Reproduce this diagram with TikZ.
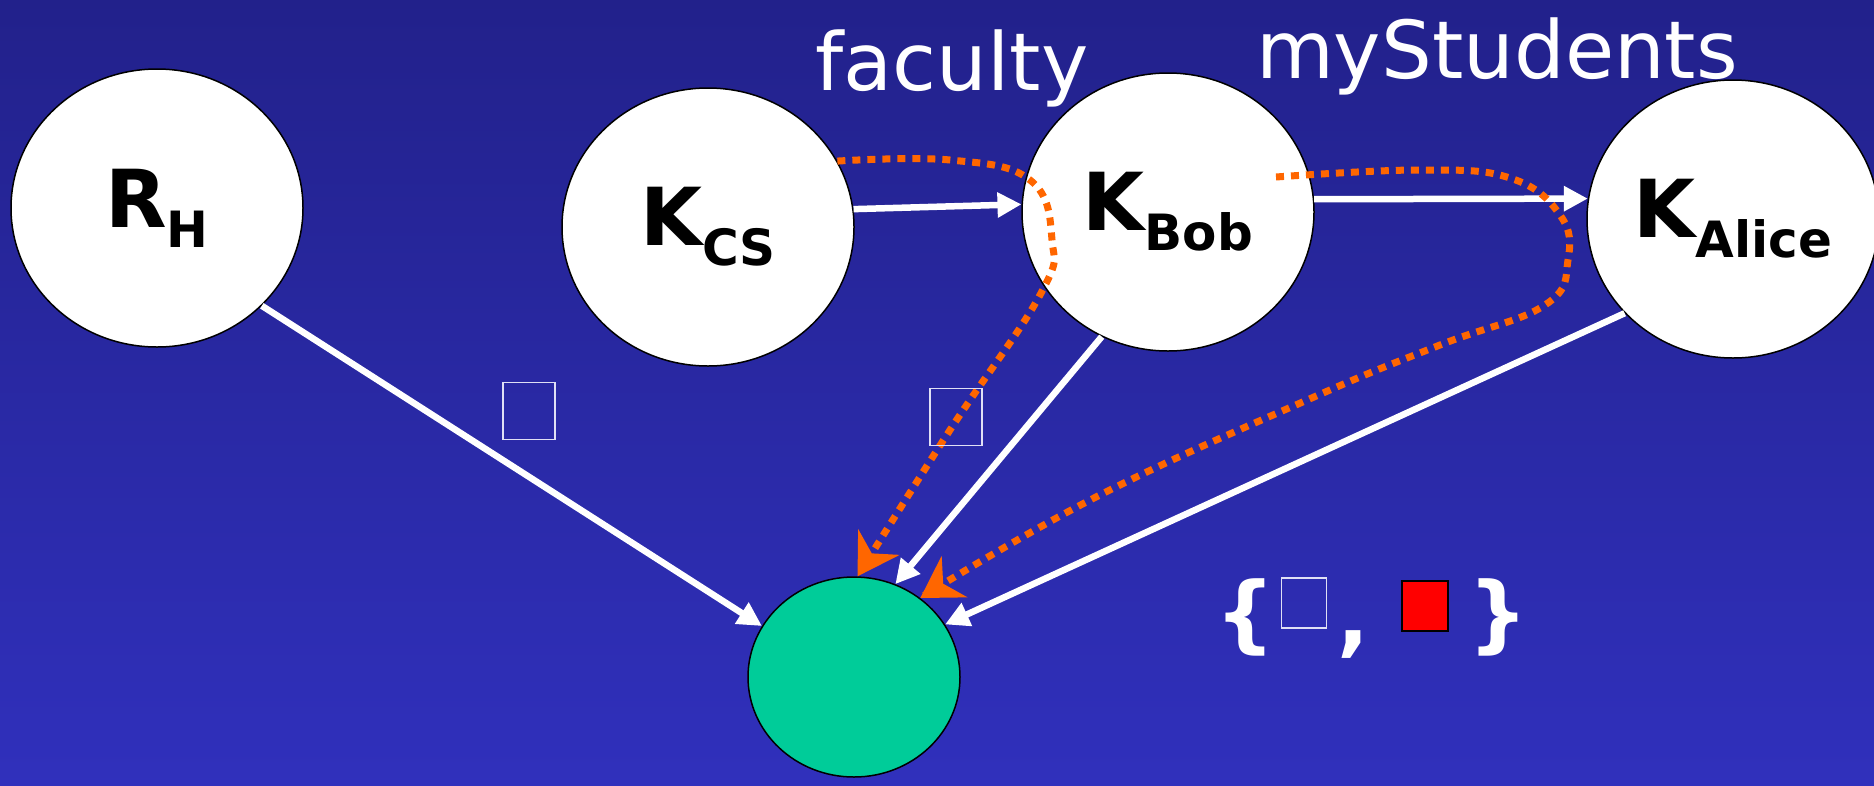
\documentclass[tikz,border=0pt]{standalone}
\usepackage{fontspec}
\setmainfont{DejaVu Sans}
\usetikzlibrary{shapes.geometric}
\usetikzlibrary{arrows.meta}
\usetikzlibrary{calc}

\definecolor{bgtop}{RGB}{34,33,139}
\definecolor{bgbot}{RGB}{48,48,188}
\definecolor{orng}{RGB}{255,102,0}
\definecolor{resgreen}{RGB}{0,204,153}

\newcommand{\keylabel}[2]{\fontsize{80}{96}\selectfont\bfseries #1\raisebox{-20pt}{\fontsize{50}{60}\selectfont #2}}

\begin{document}
\begin{tikzpicture}[x=1pt, y=-1pt,
    keynode/.style={ellipse, draw=black, line width=1.5pt, fill=white, minimum width=292pt, minimum height=278pt, inner sep=0pt}, % Style for the key ellipses
    resnode/.style={ellipse, draw=black, line width=1.5pt, fill=resgreen, minimum width=212pt, minimum height=200pt}, % Style for the green target
    link/.style={white, line width=6.5pt, -{Triangle[length=24pt, width=24pt]}}, % Style for the white arrows
    chain/.style={orng, line width=7pt, dash pattern=on 8pt off 7pt, -{Stealth[length=40pt, width=48pt, inset=13pt]}}, % Style for the dotted chains
    boxmark/.style={draw=white!85!bgbot, line width=1.5pt, minimum width=52pt, minimum height=57pt, inner sep=0pt}, % Style for the empty boxes
    bigtext/.style={white, font=\fontsize{80}{96}\selectfont, inner sep=0pt} % Style for the white words
]

% Background
\shade[top color=bgtop, bottom color=bgbot] (0,0) rectangle (1874,785);
\useasboundingbox (0,0) rectangle (1874,785);

% Keys and target
\node[keynode] (RH) at (157,208) {\keylabel{R}{H}};
\node[keynode] (KCS) at (708,227) {\keylabel{K}{CS}};
\node[keynode] (KBob) at (1168,212) {\keylabel{K}{Bob}};
\node[keynode] (KAlice) at (1733,219) {\keylabel{K}{Alice}};
\node[resnode] (res) at (854,677) {};

% Labels over the edges
\node[bigtext, anchor=base] (fac) at (952,90) {faculty};
\node[bigtext, anchor=base] (mys) at (1497,78) {myStudents};

% White arrows
\draw[link] (RH.-43) -- (res.151);
\draw[link] (KCS.7) -- (KBob.177);
\draw[link] (KBob.5) -- (KAlice.172);
\draw[link] (KBob.242) -- (res.66);
\draw[link] (KAlice.221) -- (res.30);

% --- Dotted chains ---
\coordinate (s2) at ($(KBob.center)+(108,-35)$);

% Chain through faculty
\draw[chain] plot [smooth, tension=0.7] coordinates {
    (KCS.27) (950,160) (1030,180) (1052,240) (1040,295) (950,430) (res.88)
};

% Chain through myStudents
\draw[chain] plot [smooth, tension=0.7] coordinates {
    (s2) (1420,170) (1510,178) (1560,215) (1568,260) (1545,305) (1440,345) (1314,397) (1096,497) (res.50)
};

% --- End Dotted chains ---

% Empty boxes
\node[boxmark] (q1) at (529,411) {};
\node[boxmark] (q2) at (956,417) {};

% The set
\node[bigtext, font=\fontsize{84}{96}\selectfont\bfseries] (lbr) at (1245,617) {\{};
\node[boxmark, minimum width=45pt, minimum height=50pt] (q3) at (1304,603) {};
\node[bigtext, font=\fontsize{84}{96}\selectfont\bfseries] (cm) at (1353,645) {,};
\node[draw=black, line width=2pt, fill=red, minimum width=46pt, minimum height=50pt, inner sep=0pt] (q4) at (1425,606) {};
\node[bigtext, font=\fontsize{84}{96}\selectfont\bfseries] (rbr) at (1498,617) {\}};

\end{tikzpicture}
\end{document}
